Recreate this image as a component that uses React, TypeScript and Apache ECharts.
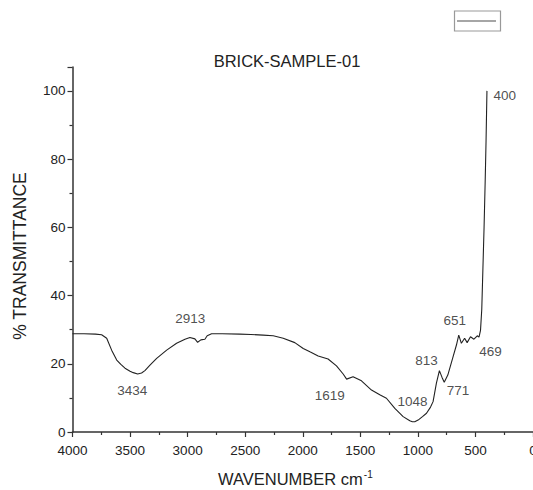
import React, { useEffect, useRef } from "react";
import * as echarts from "echarts";

const wavenumber = [
  4000, 3900, 3800, 3747, 3703, 3660, 3616, 3580, 3544, 3500, 3472, 3434, 3400, 3371, 3327, 3269,
  3182, 3096, 3023, 2980, 2937, 2913, 2885, 2850, 2830, 2792, 2700, 2546, 2450, 2344, 2257, 2170,
  2069, 1996, 1938, 1866, 1780, 1707, 1649, 1619, 1563, 1490, 1403, 1331, 1273, 1200, 1128, 1070,
  1048, 1027, 998, 960, 925, 890, 868, 839, 813, 790, 771, 740, 694, 665, 645, 622, 594, 572, 543,
  513, 484, 469, 456, 445, 435, 425, 415, 408, 400,
];
const transmittance = [
  28.8, 28.8, 28.7, 28.5, 27.5, 24.0, 21.1, 19.8, 18.7, 17.8, 17.4, 17.0, 17.3, 18.0, 19.6, 21.6,
  24.0, 26.0, 27.2, 27.7, 27.3, 26.3, 27.0, 27.2, 28.2, 28.8, 28.8, 28.7, 28.6, 28.4, 28.2, 27.5,
  26.2, 24.5, 23.5, 22.3, 21.4, 19.4, 17.0, 15.5, 16.2, 15.0, 12.3, 10.9, 9.9, 6.9, 4.5, 3.3,
  3.0, 3.0, 3.5, 4.5, 5.5, 7.3, 8.9, 14.3, 18.0, 16.0, 14.6, 16.7, 22.1, 25.5, 28.4, 26.0, 27.5, 26.2, 27.9,
  27.2, 28.2, 27.8, 29.8, 36, 48, 60, 74, 85, 100,
];

const peakNames = ["3434", "2913", "1619", "1048", "813", "771", "651", "469", "400"];
const peakLabelX = [3481, 2977, 1765, 1047, 925, 651, 680, 370, 246];
const peakLabelY = [12.3, 33.3, 10.6, 8.9, 20.9, 12.3, 32.8, 23.5, 98.5];

const xTicks = { min: 0, max: 4000, interval: 500 };
const yTicks = { min: 0, max: 107, interval: 20 };

const FONT = "'Liberation Sans', Arial, sans-serif";

export default function App() {
  const ref = useRef<HTMLDivElement>(null);
  useEffect(() => {
    if (!ref.current) return;
    const chart = echarts.init(ref.current, undefined, { renderer: "svg" });
    const lineData = wavenumber.map((w, i) => [w, transmittance[i]]);
    const labelData = peakNames.map((n, i) => ({ name: n, value: [peakLabelX[i], peakLabelY[i]] }));
    chart.setOption({
      animation: false,
      backgroundColor: "#ffffff",
      textStyle: { fontFamily: FONT },
      grid: { left: 72.5, right: 0, top: 67, bottom: 58, outerBoundsMode: "none", containLabel: false },
      xAxis: {
        type: "value",
        inverse: true,
        min: xTicks.min,
        max: xTicks.max,
        interval: xTicks.interval,
        axisLine: { show: true, onZero: false, lineStyle: { color: "#333", width: 1.5 } },
        axisTick: { show: true, length: 5, lineStyle: { color: "#333", width: 1.2 } },
        minorTick: { show: true, splitNumber: 2, length: 3, lineStyle: { color: "#333", width: 1.2 } },
        axisLabel: {
          color: "#222",
          fontSize: 13.5,
          margin: 11,
          fontFamily: FONT,
          formatter: (v: number) => String(v),
        },
        splitLine: { show: false },
      },
      yAxis: {
        type: "value",
        min: yTicks.min,
        max: yTicks.max,
        interval: yTicks.interval,
        axisLine: { show: true, onZero: false, lineStyle: { color: "#333", width: 1.5 } },
        axisTick: { show: true, length: 5, lineStyle: { color: "#333", width: 1.2 } },
        minorTick: { show: true, splitNumber: 2, length: 3, lineStyle: { color: "#333", width: 1.2 } },
        axisLabel: {
          color: "#222",
          fontSize: 13.5,
          margin: 7,
          fontFamily: FONT,
          formatter: (v: number) => (v % 20 === 0 ? String(v) : ""),
        },
        splitLine: { show: false },
      },
      series: [
        {
          type: "line",
          data: lineData,
          showSymbol: false,
          symbol: "none",
          itemStyle: { color: "#222" },
          lineStyle: { color: "#222", width: 1.1 },
          z: 3,
        },
        {
          type: "scatter",
          data: labelData,
          symbolSize: 0,
          silent: true,
          itemStyle: { color: "#222" },
          label: {
            show: true,
            position: "inside",
            formatter: (p: any) => p.name,
            color: "#222",
            textBorderWidth: 0,
            textBorderColor: "transparent",
            fontSize: 13.5,
            fontFamily: FONT,
          },
        },
      ],
      graphic: [
        {
          type: "text",
          x: 287,
          y: 61,
          style: {
            text: "BRICK-SAMPLE-01",
            fill: "#222",
            font: `16.5px ${FONT}`,
            textAlign: "center",
            textVerticalAlign: "middle",
          },
        },
        {
          type: "text",
          x: 218,
          y: 479,
          style: {
            text: "{m|WAVENUMBER cm}{s|-1}",
            fill: "#222",
            textAlign: "left",
            textVerticalAlign: "middle",
            rich: {
              m: { fontSize: 16.5, fontFamily: FONT, fill: "#222", lineHeight: 20 },
              s: { fontSize: 10, fontFamily: FONT, fill: "#222", verticalAlign: "top", lineHeight: 20, padding: [0, 0, 0, 1] },
            },
          },
        },
        {
          type: "text",
          x: 20,
          y: 256,
          rotation: Math.PI / 2,
          style: {
            text: "% TRANSMITTANCE",
            fill: "#222",
            font: `17.5px ${FONT}`,
            textAlign: "center",
            textVerticalAlign: "middle",
          },
        },
        {
          type: "rect",
          shape: { x: 454.5, y: 11, width: 46, height: 20 },
          style: { fill: "none", stroke: "#999", lineWidth: 1.2 },
        },
        {
          type: "line",
          shape: { x1: 457, y1: 21, x2: 496, y2: 21 },
          style: { stroke: "#888", lineWidth: 1.5 },
        },
      ],
    });
    return () => chart.dispose();
  }, []);
  return (
    <div
      ref={ref}
      style={{ position: "fixed", left: 0, top: 0, width: 533, height: 490, background: "#fff" }}
    />
  );
}
